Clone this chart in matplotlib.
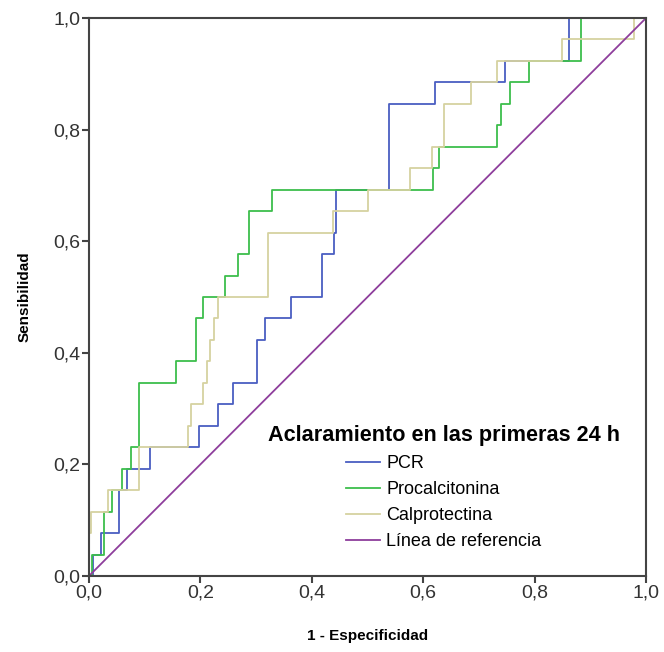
import matplotlib.pyplot as plt

# ROC curves, sensitivity steps are k/26
n_pos = 26

# PCR
pcr_fpr = [0.0, 0.008, 0.021, 0.054, 0.068, 0.110, 0.198, 0.232, 0.259, 0.301, 0.316,
           0.363, 0.418, 0.439, 0.444, 0.539, 0.622, 0.746, 0.862, 1.0]
pcr_k = [0, 1, 2, 4, 5, 6, 7, 8, 9, 11, 12, 13, 15, 16, 18, 22, 23, 24, 26, 26]

# Procalcitonina
pct_fpr = [0.0, 0.005, 0.027, 0.041, 0.060, 0.075, 0.089, 0.157, 0.192, 0.205, 0.245,
           0.267, 0.287, 0.328, 0.617, 0.629, 0.732, 0.739, 0.755, 0.789, 0.883, 1.0]
pct_k = [0, 1, 3, 4, 5, 6, 9, 10, 12, 13, 14, 15, 17, 18, 19, 20, 21, 22, 23, 24, 26, 26]

# Calprotectina
cal_fpr = [0.0, 0.003, 0.035, 0.089, 0.178, 0.184, 0.205, 0.211, 0.217, 0.224, 0.232,
           0.321, 0.438, 0.500, 0.576, 0.616, 0.637, 0.685, 0.732, 0.849, 0.979, 1.0]
cal_k = [2, 3, 4, 6, 7, 8, 9, 10, 11, 12, 13, 16, 17, 18, 19, 20, 22, 23, 24, 25, 26, 26]

labels = ["PCR", "Procalcitonina", "Calprotectina", "Línea de referencia"]
ticks = [0.0, 0.2, 0.4, 0.6, 0.8, 1.0]
tick_labels = ["0,0", "0,2", "0,4", "0,6", "0,8", "1,0"]

plt.rcParams['font.family'] = ['Liberation Sans', 'DejaVu Sans']

fig = plt.figure(figsize=(6.64, 6.52), dpi=100)
ax = fig.add_axes([0.134, 0.1166, 0.839, 0.8558])

ax.plot(pcr_fpr, [k / n_pos for k in pcr_k], drawstyle="steps-post",
        color="#4A5EC2", lw=1.3, label=labels[0])
ax.plot(pct_fpr, [k / n_pos for k in pct_k], drawstyle="steps-post",
        color="#3DBE4C", lw=1.3, label=labels[1])
# calprotectina starts on the y axis at 2/26
ax.plot([0.0] + cal_fpr, [0.0] + [k / n_pos for k in cal_k], drawstyle="steps-post",
        color="#D6D2A0", lw=1.3, label=labels[2])
ax.plot([0, 1], [0, 1], color="#8E3E9C", lw=1.3, label=labels[3])

ax.set_xlim(0, 1)
ax.set_ylim(0, 1)
ax.set_xticks(ticks)
ax.set_xticklabels(tick_labels)
ax.set_yticks(ticks)
ax.set_yticklabels(tick_labels)
ax.tick_params(direction="out", length=5, width=1.5, color="#444444",
               labelsize=14, labelcolor="#333333", pad=1)

for s in ax.spines.values():
    s.set_color("#444444")
    s.set_linewidth(1.5)

ax.set_xlabel("1 - Especificidad", fontsize=11, fontweight="bold", labelpad=20)
ax.set_ylabel("Sensibilidad", fontsize=11, fontweight="bold", labelpad=16)

leg = ax.legend(loc="center", bbox_to_anchor=(0.637, 0.158), frameon=False,
                title="Aclaramiento en las primeras 24 h", fontsize=13,
                handlelength=1.85, handletextpad=0.35, labelspacing=0.5)
leg.get_title().set_fontsize(15.6)
leg.get_title().set_fontweight("bold")

fig.savefig("out.png", dpi=100)
